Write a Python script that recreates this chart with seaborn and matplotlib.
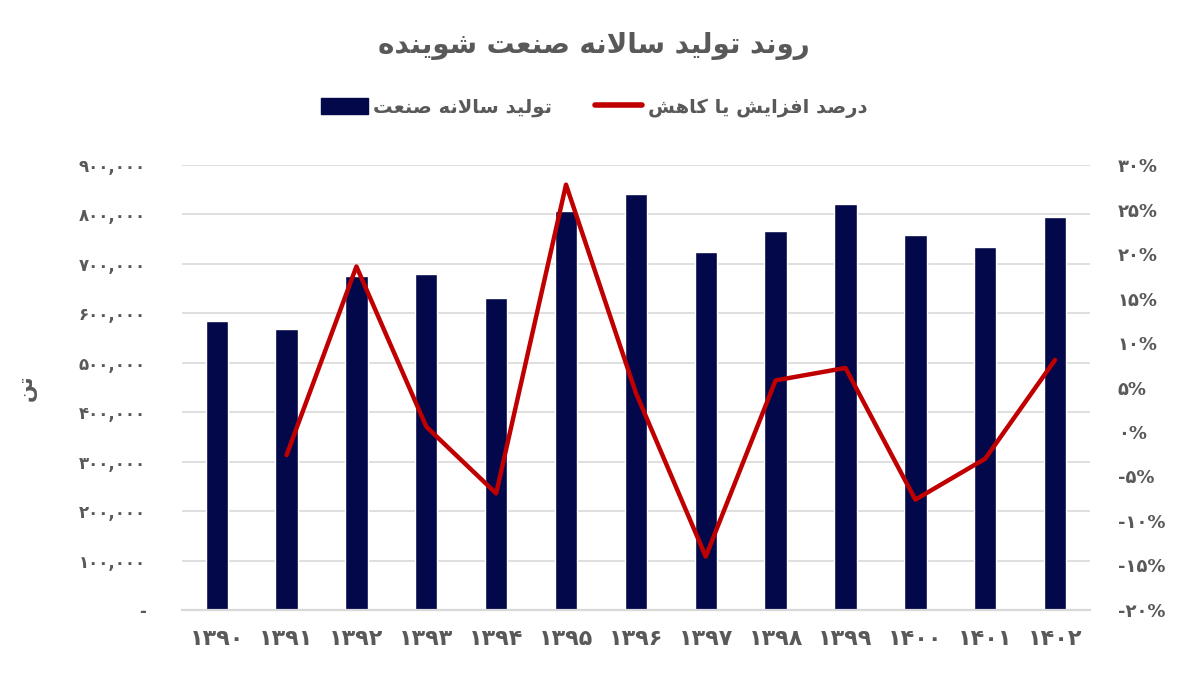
import numpy as np
import pandas as pd
import matplotlib
matplotlib.use("Agg")
import matplotlib.pyplot as plt
from matplotlib.ticker import FixedLocator, FuncFormatter
from matplotlib.patches import Patch
from matplotlib.lines import Line2D
import seaborn as sns

# ---------------- data ----------------
years = ['۱۳۹۰', '۱۳۹۱', '۱۳۹۲', '۱۳۹۳', '۱۳۹۴', '۱۳۹۵', '۱۳۹۶',
         '۱۳۹۷', '۱۳۹۸', '۱۳۹۹', '۱۴۰۰', '۱۴۰۱', '۱۴۰۲']
production = [584000, 569000, 676000, 679000, 632000, 808000, 842000,
              724000, 767000, 822000, 758000, 735000, 795000]
change_pct = [np.nan, -2.6, 18.6, 0.6, -6.9, 27.8, 4.4,
              -14.0, 5.8, 7.2, -7.6, -3.0, 8.1]

title_text = "روند تولید سالانه صنعت شوینده"
bar_label = "تولید سالانه صنعت"
line_label = "درصد افزایش یا کاهش"
y_label = "تن"

# ---------------- Persian shaping helpers ----------------
FORMS = {
    'ا': ('\uFE8D', '\uFE8E', None, None),
    'ب': ('\uFE8F', '\uFE90', '\uFE91', '\uFE92'),
    'پ': ('\uFB56', '\uFB57', '\uFB58', '\uFB59'),
    'ت': ('\uFE95', '\uFE96', '\uFE97', '\uFE98'),
    'ث': ('\uFE99', '\uFE9A', '\uFE9B', '\uFE9C'),
    'ج': ('\uFE9D', '\uFE9E', '\uFE9F', '\uFEA0'),
    'چ': ('\uFB7A', '\uFB7B', '\uFB7C', '\uFB7D'),
    'ح': ('\uFEA1', '\uFEA2', '\uFEA3', '\uFEA4'),
    'خ': ('\uFEA5', '\uFEA6', '\uFEA7', '\uFEA8'),
    'د': ('\uFEA9', '\uFEAA', None, None),
    'ذ': ('\uFEAB', '\uFEAC', None, None),
    'ر': ('\uFEAD', '\uFEAE', None, None),
    'ز': ('\uFEAF', '\uFEB0', None, None),
    'ژ': ('\uFB8A', '\uFB8B', None, None),
    'س': ('\uFEB1', '\uFEB2', '\uFEB3', '\uFEB4'),
    'ش': ('\uFEB5', '\uFEB6', '\uFEB7', '\uFEB8'),
    'ص': ('\uFEB9', '\uFEBA', '\uFEBB', '\uFEBC'),
    'ض': ('\uFEBD', '\uFEBE', '\uFEBF', '\uFEC0'),
    'ط': ('\uFEC1', '\uFEC2', '\uFEC3', '\uFEC4'),
    'ظ': ('\uFEC5', '\uFEC6', '\uFEC7', '\uFEC8'),
    'ع': ('\uFEC9', '\uFECA', '\uFECB', '\uFECC'),
    'غ': ('\uFECD', '\uFECE', '\uFECF', '\uFED0'),
    'ف': ('\uFED1', '\uFED2', '\uFED3', '\uFED4'),
    'ق': ('\uFED5', '\uFED6', '\uFED7', '\uFED8'),
    'ک': ('\uFB8E', '\uFB8F', '\uFB90', '\uFB91'),
    'گ': ('\uFB92', '\uFB93', '\uFB94', '\uFB95'),
    'ل': ('\uFEDD', '\uFEDE', '\uFEDF', '\uFEE0'),
    'م': ('\uFEE1', '\uFEE2', '\uFEE3', '\uFEE4'),
    'ن': ('\uFEE5', '\uFEE6', '\uFEE7', '\uFEE8'),
    'ه': ('\uFEE9', '\uFEEA', '\uFEEB', '\uFEEC'),
    'و': ('\uFEED', '\uFEEE', None, None),
    'ی': ('\uFBFC', '\uFBFD', '\uFBFE', '\uFBFF'),
    'LA': ('\uFEFB', '\uFEFC', None, None),
}


def fa(text):
    tokens, i = [], 0
    while i < len(text):
        if text[i] == 'ل' and i + 1 < len(text) and text[i + 1] == 'ا':
            tokens.append('LA')
            i += 2
        else:
            tokens.append(text[i])
            i += 1
    out = []
    for j, t in enumerate(tokens):
        f = FORMS.get(t)
        if f is None:
            out.append(t)
            continue
        prev = tokens[j - 1] if j > 0 else None
        nxt = tokens[j + 1] if j + 1 < len(tokens) else None
        jp = prev in FORMS and FORMS[prev][2] is not None
        jn = f[2] is not None and nxt in FORMS
        if jp and jn:
            out.append(f[3])
        elif jp:
            out.append(f[1])
        elif jn:
            out.append(f[2])
        else:
            out.append(f[0])
    return ''.join(reversed(out))


DIG = str.maketrans('0123456789', '۰۱۲۳۴۵۶۷۸۹')


def fa_num(s):
    return s.translate(DIG)


# ---------------- plot ----------------
sns.set_theme(style="white")
plt.rcParams['font.family'] = ['DejaVu Sans']

TXT = '#595959'
BAR = '#020849'
LINE = '#C00000'
GRID = '#d9d9d9'

df = pd.DataFrame({'year': years, 'production': production, 'change': change_pct})
df['pos'] = np.arange(len(df))

fig = plt.figure(figsize=(11.88, 6.82), dpi=100)
ax = fig.add_axes([0.153, 0.1056, 0.7645, 0.6524])

sns.barplot(data=df, x='year', y='production', order=years, color=BAR,
            saturation=1, width=0.32, ax=ax)
ax.set_ylim(0, 900000)
ax.yaxis.set_major_locator(FixedLocator(np.arange(0, 900001, 100000)))
ax.yaxis.set_major_formatter(FuncFormatter(
    lambda v, p: '-' if v == 0 else fa_num(f'{int(v):,}')))
ax.set_axisbelow(True)
ax.grid(axis='y', color=GRID, lw=1.2)
ax.grid(axis='x', visible=False)
for s in ['top', 'left', 'right']:
    ax.spines[s].set_visible(False)
ax.spines['bottom'].set_color(GRID)
ax.spines['bottom'].set_linewidth(1.6)
ax.tick_params(axis='y', length=0, pad=26, labelsize=12, labelcolor=TXT)
ax.tick_params(axis='x', length=0, pad=14, labelsize=16, labelcolor=TXT)
for lbl in ax.get_xticklabels():
    lbl.set_fontweight('bold')
for lbl in ax.get_yticklabels():
    lbl.set_fontweight('bold')
ax.set_xlabel('')
ax.set_ylabel(fa(y_label), fontsize=15, color=TXT, fontweight='bold', labelpad=30)

ax2 = ax.twinx()
sns.lineplot(data=df.dropna(), x='pos', y='change', color=LINE, lw=3.2, ax=ax2)
ax2.set_ylim(-20, 30)
ax2.set_xlim(-0.5, len(years) - 0.5)
ax.set_xlim(-0.5, len(years) - 0.5)
ax2.yaxis.set_major_locator(FixedLocator(np.arange(-20, 31, 5)))
ax2.yaxis.set_major_formatter(FuncFormatter(lambda v, p: fa_num(f'{int(round(v))}%')))
ax2.tick_params(axis='y', length=0, pad=20, labelsize=13, labelcolor=TXT)
for lbl in ax2.get_yticklabels():
    lbl.set_fontweight('bold')
ax2.set_ylabel('')
ax2.set_xlabel('')
for s in ax2.spines.values():
    s.set_visible(False)
ax2.grid(False)

fig.text(0.5, 0.932, fa(title_text), ha='center', va='center', fontsize=20,
         fontweight='bold', color=TXT)

handles = [Patch(facecolor=BAR, edgecolor=BAR),
           Line2D([0], [0], color=LINE, lw=4)]
fig.legend(handles, [fa(bar_label), fa(line_label)], loc='center',
           bbox_to_anchor=(0.5, 0.842), ncol=2, frameon=False,
           prop={'size': 14, 'weight': 'bold'}, labelcolor=TXT,
           handlelength=2.4, handleheight=0.9, handletextpad=0.3, columnspacing=2.2)

fig.savefig('out.png', dpi=100)
